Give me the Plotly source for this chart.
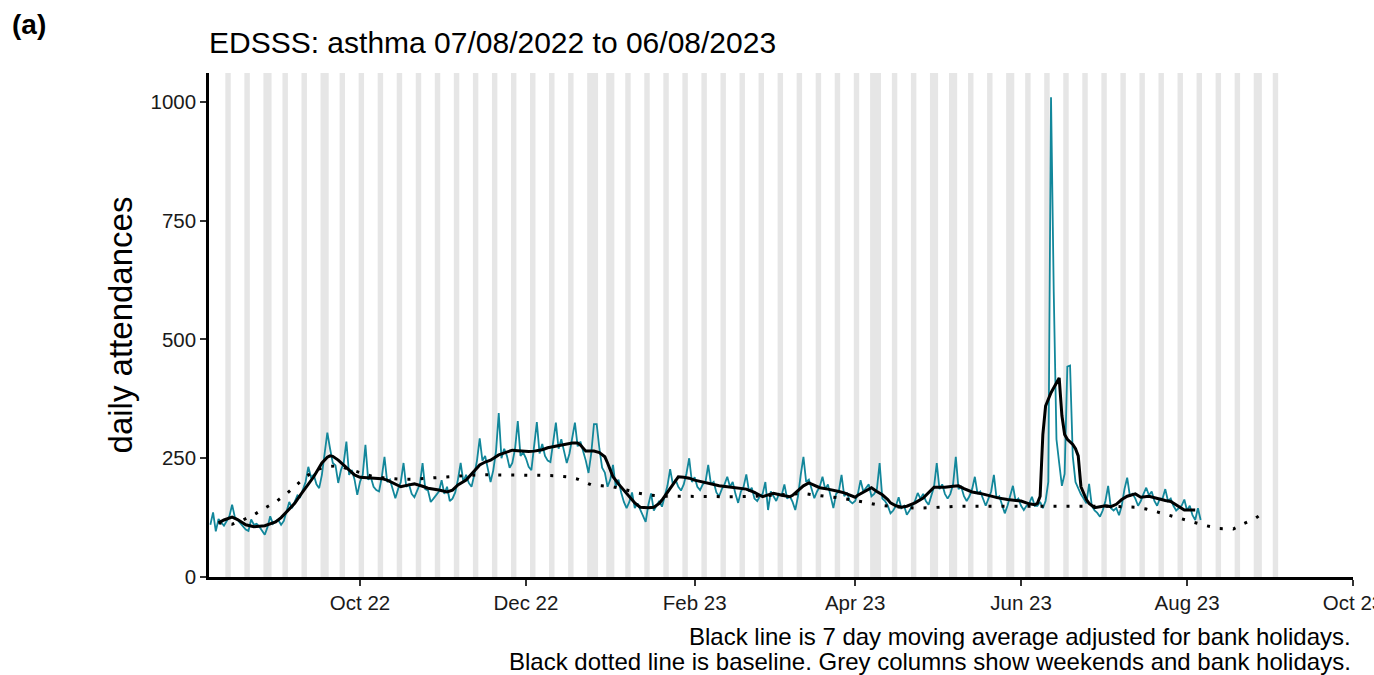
import pandas as pd
import plotly.graph_objects as go

# daily attendances, one value per day starting Sunday 07/08/2022 (rows = weeks Sun..Sat)
START_DATE = "2022-08-07"
DAILY_ATTENDANCES = [
    110, 136, 96, 122, 115, 108, 118,
    128, 152, 126, 120, 114, 106, 100,
    97, 121, 110, 112, 106, 98, 89,
    105, 128, 112, 118, 120, 110, 118,
    140, 158, 145, 160, 172, 168, 182,
    200, 232, 210, 215, 195, 187, 215,
    260, 304, 270, 240, 235, 198, 225,
    240, 285, 215, 225, 205, 173, 200,
    215, 278, 205, 210, 190, 183, 180,
    210, 253, 200, 205, 185, 166, 185,
    200, 240, 190, 195, 175, 168, 180,
    195, 240, 185, 182, 158, 165, 172,
    180, 204, 175, 190, 160, 165, 178,
    205, 240, 200, 215, 198, 190, 215,
    245, 292, 245, 255, 230, 200, 225,
    265, 345, 250, 270, 255, 230, 240,
    270, 328, 255, 262, 250, 232, 225,
    275, 326, 260, 280, 255, 245, 242,
    285, 325, 270, 290, 265, 240, 260,
    290, 325, 275, 285, 265, 245, 219,
    260, 322, 322, 270, 230, 220, 190,
    205, 236, 190, 205, 178, 158, 145,
    158, 178, 145, 155, 142, 132, 116,
    152, 176, 140, 150, 160, 148, 168,
    192, 227, 195, 205, 190, 182, 195,
    218, 250, 200, 210, 190, 183, 195,
    200, 236, 195, 200, 178, 170, 185,
    195, 211, 190, 200, 175, 156, 180,
    190, 216, 180, 188, 165, 160, 170,
    175, 200, 141, 180, 170, 160, 175,
    172, 195, 165, 170, 158, 141, 170,
    215, 253, 200, 205, 185, 166, 180,
    190, 211, 185, 195, 170, 145, 175,
    180, 215, 170, 178, 160, 155, 160,
    175, 204, 180, 188, 195, 170, 175,
    185, 240, 165, 160, 150, 134, 140,
    150, 168, 145, 150, 131, 140, 150,
    160, 177, 165, 175, 160, 152, 170,
    190, 240, 185, 195, 175, 165, 175,
    195, 253, 185, 190, 170, 160, 170,
    185, 211, 175, 180, 165, 150, 165,
    180, 215, 165, 170, 150, 134, 150,
    170, 192, 160, 165, 150, 141, 150,
    155, 169, 150, 150, 158, 145, 160,
    200, 1010, 600, 290, 240, 192, 217,
    443, 445, 254, 200, 185, 174, 165,
    155, 196, 150, 140, 135, 127, 140,
    160, 192, 145, 140, 145, 130, 150,
    185, 209, 170, 175, 165, 150, 160,
    175, 188, 172, 180, 160, 150, 165,
    165, 185, 160, 165, 150, 140, 145,
    150, 163, 140, 150, 130, 120, 145,
    120,
]

# 7 day moving average (day offset from START_DATE, value)
MA_DAY = [
    3, 5, 8, 10, 13, 16, 20, 24, 26, 28, 31, 33, 36, 38, 41, 43, 44, 45, 47, 49,
    51, 53, 55, 58, 61, 63, 65, 68, 70, 73, 75, 78, 80, 84, 87, 89, 91, 94, 97, 99,
    101, 103, 106, 109, 111, 113, 115, 117, 119, 122, 124, 126, 128, 131, 133, 135, 136, 138, 141, 143,
    145, 146, 148, 150, 152, 154, 156, 158, 161, 163, 165, 166, 169, 172, 174, 176, 178, 181, 184, 187,
    190, 192, 195, 197, 200, 203, 205, 207, 210, 213, 214, 216, 218, 220, 222, 224, 227, 229, 231, 233,
    235, 237, 238, 240, 243, 245, 247, 249, 250, 252, 254, 256, 259, 262, 264, 266, 268, 270, 273, 275,
    277, 280, 283, 285, 288, 290, 293, 296, 298, 301, 303, 304, 305, 306, 307, 309, 310, 311, 312, 313,
    314, 315, 317, 318, 319, 320, 321, 322, 323, 325, 327, 329, 331, 333, 335, 337, 340, 342, 345, 347,
    349, 351, 353, 355, 357, 358, 360, 362,
]
MA_VALUE = [
    114, 120, 126, 121, 110, 106, 108, 116, 125, 137, 155, 172, 195, 211, 240, 252, 255, 254, 246, 236,
    225, 215, 210, 209, 208, 207, 204, 195, 190, 194, 196, 191, 187, 183, 179, 183, 194, 204, 222, 236,
    242, 246, 257, 263, 267, 266, 265, 264, 265, 268, 272, 274, 276, 279, 282, 282, 278, 265, 265, 262,
    253, 240, 211, 196, 183, 168, 156, 147, 146, 147, 155, 162, 187, 211, 210, 208, 204, 200, 196, 192,
    190, 189, 187, 185, 178, 169, 173, 176, 172, 169, 172, 183, 192, 198, 193, 188, 185, 183, 180, 177,
    173, 168, 172, 179, 188, 180, 173, 163, 156, 150, 147, 149, 156, 166, 178, 189, 189, 189, 191, 192,
    186, 179, 176, 173, 169, 166, 163, 161, 160, 154, 152, 155, 170, 300, 360, 388, 399, 408, 419, 340,
    300, 290, 279, 270, 255, 190, 175, 163, 155, 146, 148, 150, 148, 153, 163, 170, 175, 168, 170, 167,
    163, 161, 159, 152, 145, 141, 141, 141,
]

# baseline (day offset from START_DATE, value)
BASELINE_DAY = [
    3, 8, 12, 16, 20, 24, 28, 31, 35, 39, 42, 47, 51, 56, 60, 65, 70, 75, 80, 84,
    89, 94, 98, 103, 108, 113, 117, 122, 127, 131, 135, 140, 144, 148, 153, 157, 162, 167, 172, 180,
    190, 200, 207, 213, 218, 223, 228, 232, 238, 242, 246, 251, 256, 260, 265, 270, 275, 290, 310, 330,
    340, 344, 348, 353, 357, 362, 366, 371, 376, 380, 384, 388,
]
BASELINE_VALUE = [
    114, 111, 120, 131, 145, 158, 175, 190, 211, 225, 232, 234, 227, 219, 211, 208, 206, 206, 208, 210,
    211, 213, 215, 215, 215, 214, 214, 214, 213, 211, 206, 194, 192, 190, 183, 177, 172, 170, 170, 169,
    169, 170, 172, 174, 176, 172, 169, 166, 160, 155, 151, 148, 146, 145, 146, 148, 149, 149, 149, 149,
    147, 143, 137, 129, 122, 114, 108, 102, 101, 113, 123, 139,
]

BANK_HOLIDAYS = [
    "2022-08-29", "2022-09-19", "2022-12-26", "2022-12-27", "2023-01-02",
    "2023-04-07", "2023-04-10", "2023-05-01", "2023-05-08", "2023-05-29", "2023-08-28",
]
SHADE_START = "2022-08-08"
SHADE_END = "2023-09-03"

X_RANGE = ["2022-08-06 12:00", "2023-10-01"]
TICK_DATES = ["2022-10-01", "2022-12-01", "2023-02-01", "2023-04-01",
              "2023-06-01", "2023-08-01", "2023-10-01"]
TICK_LABELS = ["Oct 22", "Dec 22", "Feb 23", "Apr 23", "Jun 23", "Aug 23", "Oct 23"]
Y_TICKS = [0, 250, 500, 750, 1000]
Y_MAX = 1061

FONT = "Liberation Sans, Arial, sans-serif"
TEAL = "#12879B"
GREY = "#E6E6E6"

start = pd.Timestamp(START_DATE)
daily_x = start + pd.to_timedelta(list(range(len(DAILY_ATTENDANCES))), unit="D")
ma_x = start + pd.to_timedelta(MA_DAY, unit="D")
base_x = start + pd.to_timedelta(BASELINE_DAY, unit="D")

# grey columns: weekends + bank holidays, merged into runs of consecutive days
days = pd.date_range(SHADE_START, SHADE_END, freq="D")
shade = sorted(set(days[days.dayofweek >= 5]) | set(pd.to_datetime(BANK_HOLIDAYS)))
runs = []
for d in shade:
    if runs and (d - runs[-1][1]).days == 1:
        runs[-1][1] = d
    else:
        runs.append([d, d])
half = pd.Timedelta(hours=12)
shapes = [
    dict(type="rect", xref="x", yref="paper", x0=a - half, x1=b + half, y0=0, y1=1,
         fillcolor=GREY, line_width=0, layer="below")
    for a, b in runs
]

fig = go.Figure()
fig.add_trace(go.Scatter(x=daily_x, y=DAILY_ATTENDANCES, mode="lines",
                         line=dict(color=TEAL, width=1.8), name="daily"))
fig.add_trace(go.Scatter(x=base_x, y=BASELINE_VALUE, mode="lines",
                         line=dict(color="black", width=3, dash="3px,10px"), name="baseline"))
fig.add_trace(go.Scatter(x=ma_x, y=MA_VALUE, mode="lines",
                         line=dict(color="black", width=3), name="7 day average"))

fig.update_layout(
    width=1374, height=675,
    margin=dict(l=209, r=21, t=73, b=98),
    paper_bgcolor="white", plot_bgcolor="white",
    showlegend=False,
    shapes=shapes,
    font=dict(family=FONT, color="black"),
    title=dict(text="EDSSS: asthma 07/08/2022 to 06/08/2023", x=0, xref="paper", xanchor="left",
               y=1 - 42 / 675, yref="container", yanchor="middle",
               font=dict(size=30, color="black", family=FONT)),
)
fig.update_xaxes(
    type="date", range=X_RANGE, tickvals=TICK_DATES, ticktext=TICK_LABELS,
    showgrid=False, zeroline=False, showline=True, linecolor="black", linewidth=2.5,
    ticks="outside", ticklen=6, tickwidth=1.5, tickcolor="#333333", automargin=False,
    tickfont=dict(size=20.5, color="#1a1a1a", family=FONT), ticklabeloverflow="allow",
)
fig.update_yaxes(
    range=[0, Y_MAX], tickvals=Y_TICKS, ticktext=[str(v) for v in Y_TICKS],
    showgrid=False, zeroline=False, showline=True, linecolor="black", linewidth=2.5,
    ticks="outside", ticklen=6, tickwidth=1.5, tickcolor="#333333", automargin=False,
    tickfont=dict(size=20.5, color="#1a1a1a", family=FONT),
    title=dict(text="daily attendances", font=dict(size=33, color="black", family=FONT), standoff=8),
)

fig.add_annotation(text="<b>(a)</b>", xref="paper", yref="paper", x=(10 - 209) / 1144,
                   y=(577 - 25) / 504, xanchor="left", yanchor="middle", showarrow=False,
                   font=dict(size=28, color="black", family=FONT))
fig.add_annotation(text="Black line is 7 day moving average adjusted for bank holidays.",
                   xref="paper", yref="paper", x=1, y=(577 - 636) / 504,
                   xanchor="right", yanchor="middle", showarrow=False,
                   font=dict(size=24, color="black", family=FONT))
fig.add_annotation(text="Black dotted line is baseline. Grey columns show weekends and bank holidays.",
                   xref="paper", yref="paper", x=1, y=(577 - 661) / 504,
                   xanchor="right", yanchor="middle", showarrow=False,
                   font=dict(size=24, color="black", family=FONT))

# the page's default 8px body margin would push the 1374x675 figure past the window
fig.write_html(
    "out.html",
    config={"displayModeBar": False},
    post_script="document.body.style.margin='0';document.body.style.overflow='hidden';",
)
